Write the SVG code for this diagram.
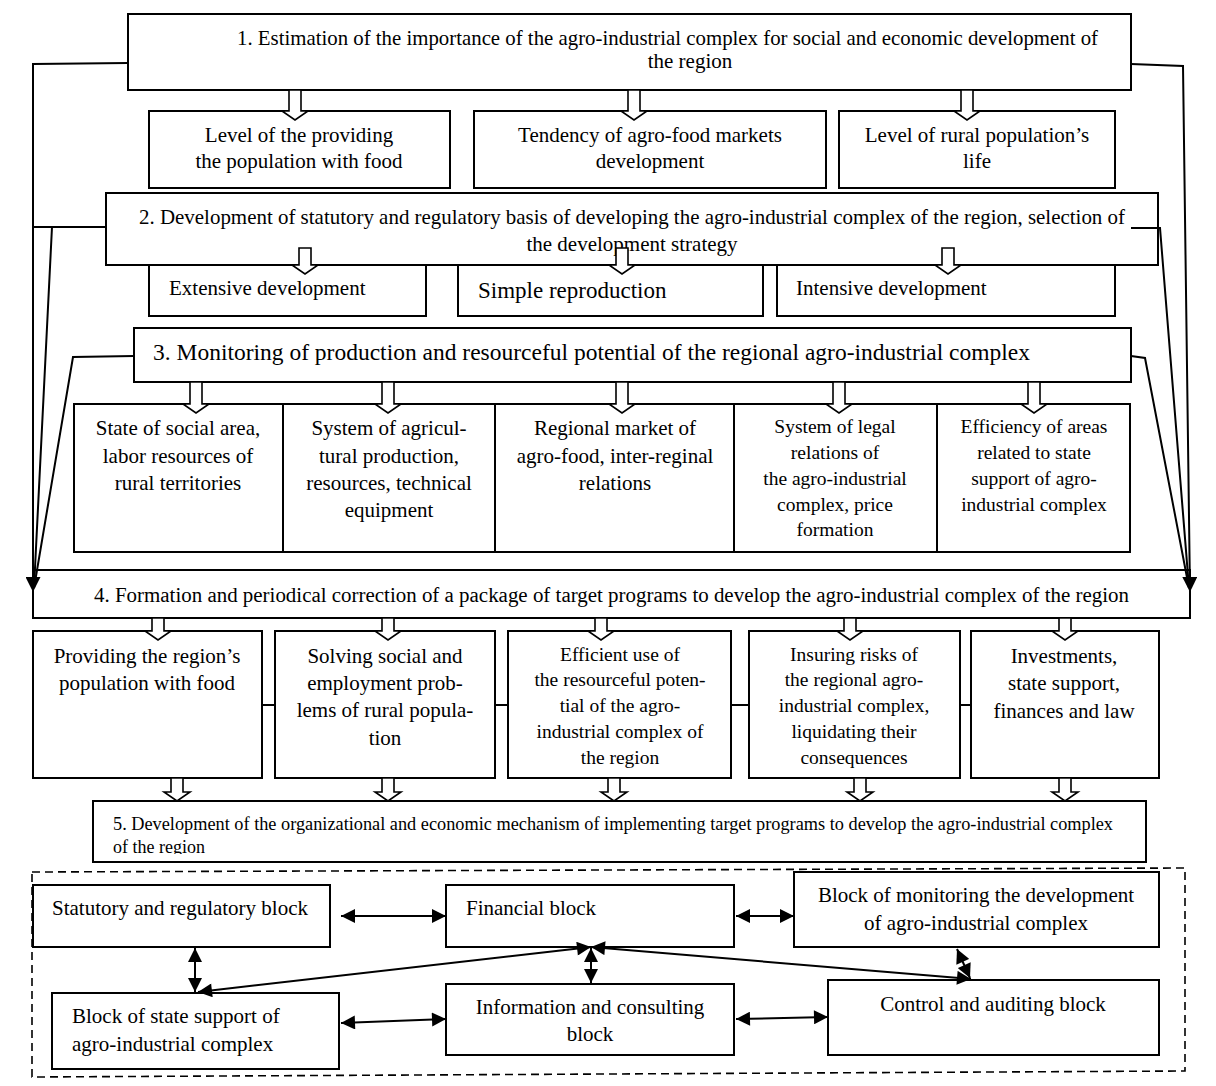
<svg xmlns="http://www.w3.org/2000/svg" width="1216" height="1086" viewBox="0 0 1216 1086">
<style>
.b{fill:#fff;stroke:#000;stroke-width:2}
.t{font-family:"Liberation Serif","Times New Roman",serif;font-size:21px;fill:#000}
.c{text-anchor:middle}
.s{font-size:19.5px}
.ln{fill:none;stroke:#000;stroke-width:2}
.ha{fill:#fff;stroke:#000;stroke-width:1.6;stroke-linejoin:miter}
.da{fill:none;stroke:#000;stroke-width:2;marker-start:url(#ab);marker-end:url(#ab)}
</style>
<defs>
<marker id="ah" viewBox="0 0 10 10" refX="10" refY="5" markerWidth="16" markerHeight="15" markerUnits="userSpaceOnUse" orient="auto"><path d="M0,0 L10,5 L0,10 z" fill="#000"/></marker>
<marker id="ab" viewBox="0 0 10 10" refX="10" refY="5" markerWidth="15" markerHeight="14" markerUnits="userSpaceOnUse" orient="auto-start-reverse"><path d="M0,0 L10,5 L0,10 z" fill="#000"/></marker>
<clipPath id="c5"><rect x="93" y="801" width="1053" height="53"/></clipPath>
</defs>
<rect x="0" y="0" width="1216" height="1086" fill="#fff"/>

<g id="n1"><rect class="b" x="128" y="14" width="1003" height="76"/>
<text class="t" x="237" y="45" textLength="861" lengthAdjust="spacingAndGlyphs">1. Estimation of the importance of the agro-industrial complex for social and economic development of</text>
<text class="t c" x="690" y="68">the region</text></g>

<g id="n1a"><rect class="b" x="149" y="111" width="301" height="77"/>
<text class="t c" x="299" y="142">Level of the providing</text><text class="t c" x="299" y="168">the population with food</text></g>
<g id="n1b"><rect class="b" x="474" y="111" width="352" height="77"/>
<text class="t c" x="650" y="142">Tendency of agro-food markets</text><text class="t c" x="650" y="168">development</text></g>
<g id="n1c"><rect class="b" x="839" y="111" width="276" height="77"/>
<text class="t c" x="977" y="142">Level of rural population’s</text><text class="t c" x="977" y="168">life</text></g>

<g id="n2"><rect class="b" x="106" y="193" width="1052" height="72"/>
<text class="t" x="139" y="224" textLength="986" lengthAdjust="spacingAndGlyphs">2. Development of statutory and regulatory basis of developing the agro-industrial complex of the region, selection of</text>
<text class="t c" x="632" y="251">the development strategy</text></g>

<g id="n2a"><rect class="b" x="149" y="265" width="277" height="51"/><text class="t" x="169" y="295">Extensive development</text></g>
<g id="n2b"><rect class="b" x="458" y="265" width="305" height="51"/><text class="t" x="478" y="298" style="font-size:23px">Simple reproduction</text></g>
<g id="n2c"><rect class="b" x="777" y="265" width="338" height="51"/><text class="t" x="796" y="295">Intensive development</text></g>

<g id="n3"><rect class="b" x="134" y="328" width="997" height="54"/>
<text class="t" x="153" y="360" textLength="877" lengthAdjust="spacingAndGlyphs" style="font-size:22.5px">3. Monitoring of production and resourceful potential of the regional agro-industrial complex</text></g>

<g id="n3a"><rect class="b" x="74" y="404" width="209" height="148"/>
<text class="t c" x="178" y="435">State of social area,</text><text class="t c" x="178" y="463">labor resources of</text><text class="t c" x="178" y="490">rural territories</text></g>
<g id="n3b"><rect class="b" x="283" y="404" width="212" height="148"/>
<text class="t c" x="389" y="435">System of agricul-</text><text class="t c" x="389" y="463">tural production,</text><text class="t c" x="389" y="490">resources, technical</text><text class="t c" x="389" y="517">equipment</text></g>
<g id="n3c"><rect class="b" x="495" y="404" width="239" height="148"/>
<text class="t c" x="615" y="435">Regional market of</text><text class="t c" x="615" y="463">agro-food, inter-reginal</text><text class="t c" x="615" y="490">relations</text></g>
<g id="n3d"><rect class="b" x="734" y="404" width="203" height="148"/>
<text class="t c s" x="835" y="433">System of legal</text><text class="t c s" x="835" y="459">relations of</text><text class="t c s" x="835" y="485">the agro-industrial</text><text class="t c s" x="835" y="511">complex, price</text><text class="t c s" x="835" y="536">formation</text></g>
<g id="n3e"><rect class="b" x="937" y="404" width="193" height="148"/>
<text class="t c s" x="1034" y="433">Efficiency of areas</text><text class="t c s" x="1034" y="459">related to state</text><text class="t c s" x="1034" y="485">support of agro-</text><text class="t c s" x="1034" y="511">industrial complex</text></g>

<g id="n4"><rect class="b" x="33" y="570" width="1157" height="48"/>
<text class="t" x="94" y="602" textLength="1035" lengthAdjust="spacingAndGlyphs" style="font-size:20px">4. Formation and periodical correction of a package of target programs to develop the agro-industrial complex of the region</text></g>

<g id="n4a"><rect class="b" x="33" y="631" width="229" height="147"/>
<text class="t c" x="147" y="663">Providing the region’s</text><text class="t c" x="147" y="690">population with food</text></g>
<g id="n4b"><rect class="b" x="275" y="631" width="220" height="147"/>
<text class="t c" x="385" y="663">Solving social and</text><text class="t c" x="385" y="690">employment prob-</text><text class="t c" x="385" y="717">lems of rural popula-</text><text class="t c" x="385" y="745">tion</text></g>
<g id="n4c"><rect class="b" x="508" y="631" width="223" height="147"/>
<text class="t c s" x="620" y="661">Efficient use of</text><text class="t c s" x="620" y="686">the resourceful poten-</text><text class="t c s" x="620" y="712">tial of the agro-</text><text class="t c s" x="620" y="738">industrial complex of</text><text class="t c s" x="620" y="764">the region</text></g>
<g id="n4d"><rect class="b" x="749" y="631" width="211" height="147"/>
<text class="t c s" x="854" y="661">Insuring risks of</text><text class="t c s" x="854" y="686">the regional agro-</text><text class="t c s" x="854" y="712">industrial complex,</text><text class="t c s" x="854" y="738">liquidating their</text><text class="t c s" x="854" y="764">consequences</text></g>
<g id="n4e"><rect class="b" x="971" y="631" width="188" height="147"/>
<text class="t c" x="1064" y="663">Investments,</text><text class="t c" x="1064" y="690">state support,</text><text class="t c" x="1064" y="718">finances and law</text></g>

<g id="n5"><rect class="b" x="93" y="801" width="1053" height="61"/>
<g clip-path="url(#c5)">
<text class="t" x="113" y="830" textLength="1000" lengthAdjust="spacingAndGlyphs" style="font-size:18px">5. Development of the organizational and economic mechanism of implementing target programs to develop the agro-industrial complex</text>
<text class="t" x="113" y="853" style="font-size:18px">of the region</text></g></g>

<g id="mech"><path d="M32,872 L1185,868 L1185,1071 L32,1077 Z" fill="none" stroke="#000" stroke-width="1.6" stroke-dasharray="8,5"/></g>

<g id="b1"><rect class="b" x="33" y="885" width="297" height="62"/><text class="t" x="52" y="915">Statutory and regulatory block</text></g>
<g id="b2"><rect class="b" x="446" y="885" width="288" height="62"/><text class="t" x="466" y="915">Financial block</text></g>
<g id="b3"><rect class="b" x="794" y="872" width="365" height="75"/><text class="t c" x="976" y="902">Block of monitoring the development</text><text class="t c" x="976" y="930">of agro-industrial complex</text></g>
<g id="b4"><rect class="b" x="52" y="993" width="287" height="76"/><text class="t" x="72" y="1023">Block of state support of</text><text class="t" x="72" y="1051">agro-industrial complex</text></g>
<g id="b5"><rect class="b" x="446" y="984" width="288" height="71"/><text class="t c" x="590" y="1014">Information and consulting</text><text class="t c" x="590" y="1041">block</text></g>
<g id="b6"><rect class="b" x="828" y="980" width="331" height="75"/><text class="t c" x="993" y="1011">Control and auditing block</text></g>

<g id="connectors">
<path class="ln" d="M128,63 L33,64 L33,592" marker-end="url(#ah)"/>
<path class="ln" d="M106,227 L33,227 M52,227 L34,588"/>
<path class="ln" d="M134,356 L73,357 L34,588"/>
<path class="ln" d="M1131,64 L1183,66 L1190,592" marker-end="url(#ah)"/>
<path class="ln" d="M1131,228 L1160,228 L1189,588"/>
<path class="ln" d="M1131,356 L1145,358 L1189,588"/>

<polygon class="ha" points="289,90 301,90 301,111 308,111 295,120 282,111 289,111"/>
<polygon class="ha" points="628,90 640,90 640,111 647,111 634,120 621,111 628,111"/>
<polygon class="ha" points="961,90 973,90 973,111 980,111 967,120 954,111 961,111"/>

<polygon class="ha" points="299,248 311,248 311,265 318,265 305,274 292,265 299,265"/>
<polygon class="ha" points="616,248 628,248 628,265 635,265 622,274 609,265 616,265"/>
<polygon class="ha" points="942,248 954,248 954,265 961,265 948,274 935,265 942,265"/>

<polygon class="ha" points="190,382 202,382 202,404 209,404 196,413 183,404 190,404"/>
<polygon class="ha" points="382,382 394,382 394,404 401,404 388,413 375,404 382,404"/>
<polygon class="ha" points="616,382 628,382 628,404 635,404 622,413 609,404 616,404"/>
<polygon class="ha" points="833,382 845,382 845,404 852,404 839,413 826,404 833,404"/>
<polygon class="ha" points="1028,382 1040,382 1040,404 1047,404 1034,413 1021,404 1028,404"/>

<polygon class="ha" points="152,618 164,618 164,631 171,631 158,640 145,631 152,631"/>
<polygon class="ha" points="382,618 394,618 394,631 401,631 388,640 375,631 382,631"/>
<polygon class="ha" points="595,618 607,618 607,631 614,631 601,640 588,631 595,631"/>
<polygon class="ha" points="844,618 856,618 856,631 863,631 850,640 837,631 844,631"/>
<polygon class="ha" points="1059,618 1071,618 1071,631 1078,631 1065,640 1052,631 1059,631"/>

<path class="ln" d="M262,705 H275 M495,705 H508 M731,705 H749 M960,705 H971"/>

<polygon class="ha" points="171,778 183,778 183,792 190,792 177,801 164,792 171,792"/>
<polygon class="ha" points="382,778 394,778 394,792 401,792 388,801 375,792 382,792"/>
<polygon class="ha" points="608,778 620,778 620,792 627,792 614,801 601,792 608,792"/>
<polygon class="ha" points="854,778 866,778 866,792 873,792 860,801 847,792 854,792"/>
<polygon class="ha" points="1059,778 1071,778 1071,792 1078,792 1065,801 1052,792 1059,792"/>

<line class="da" x1="341" y1="916" x2="446" y2="916"/>
<line class="da" x1="736" y1="916" x2="794" y2="916"/>
<line class="da" x1="195" y1="948" x2="195" y2="992"/>
<line class="da" x1="341" y1="1023" x2="446" y2="1019"/>
<line class="da" x1="736" y1="1019" x2="828" y2="1017"/>
<line class="da" x1="591" y1="948" x2="591" y2="983"/>
<line class="da" x1="591" y1="947" x2="198" y2="992"/>
<line class="da" x1="591" y1="947" x2="971" y2="979"/>
<line class="da" x1="957" y1="949" x2="970" y2="978"/>
</g>
</svg>
